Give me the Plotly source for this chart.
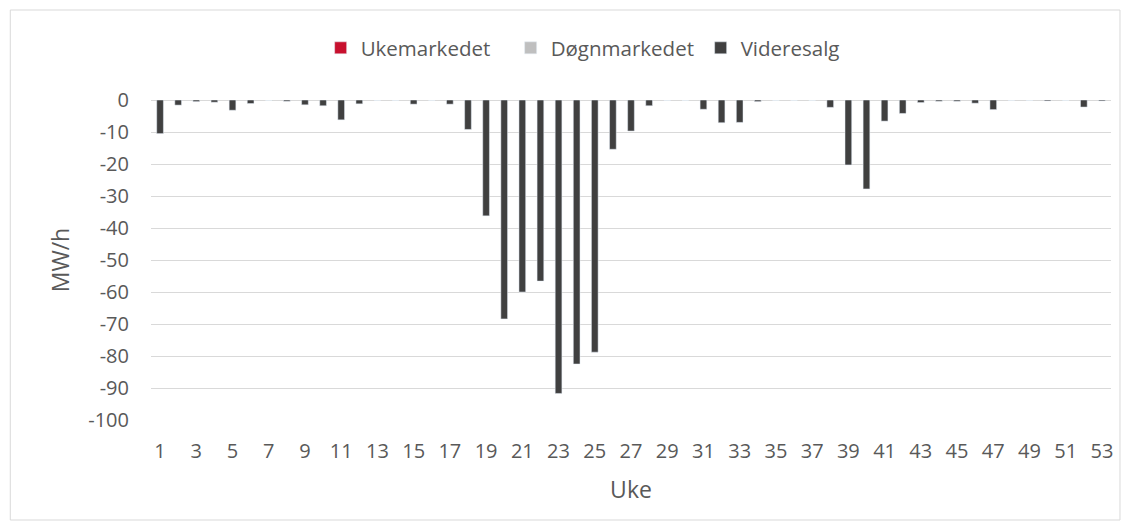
import plotly.graph_objects as go

weeks = list(range(1, 54))
ukemarkedet = [0] * 53
dognmarkedet = [0] * 53
videresalg = [
    -10.5, -1.6, -0.5, -0.7, -3.2, -1.1, 0, -0.4, -1.5, -1.8,
    -6.2, -1.2, 0, 0, -1.3, 0, -1.3, -9.2, -36.2, -68.4,
    -60.0, -56.6, -91.7, -82.5, -78.8, -15.4, -9.7, -1.8, 0, 0,
    -2.9, -7.1, -7.0, -0.5, 0, 0, 0, -2.3, -20.3, -27.8,
    -6.6, -4.2, -0.8, -0.4, -0.4, -1.0, -3.0, 0, 0, -0.3,
    0, -2.2, -0.3,
]
x_ticks = list(range(1, 54, 2))
y_ticks = list(range(-100, 1, 10))

# page has an 8px body margin; figure sized to fit the window
OFF = 8
W, H = 1133 - 2 * OFF, 531 - 2 * OFF
L, T = 151 - OFF, 100 - OFF
R = W - (1113 - OFF)
B = H - (420 - OFF)
pw, ph = W - L - R, H - T - B

def px_x(page_x):
    return (page_x - OFF - L) / pw

def px_y(page_y):
    return (H - B - (page_y - OFF)) / ph

fig = go.Figure()
fig.add_bar(x=weeks, y=ukemarkedet, name="Ukemarkedet", marker_color="#C8102E", width=0.37)
fig.add_bar(x=weeks, y=dognmarkedet, name="Døgnmarkedet", marker_color="#BFBFBF", width=0.37)
fig.add_bar(x=weeks, y=videresalg, name="Videresalg", marker_color="#404040", width=0.37)

font = dict(family="Open Sans, Calibri, sans-serif", color="#595959")

# chart-area border
fig.add_shape(type="rect", xref="paper", yref="paper",
              x0=px_x(10), x1=px_x(1122), y0=px_y(520), y1=px_y(10),
              line=dict(color="#D9D9D9", width=1), layer="below")

fig.update_layout(
    width=W, height=H,
    margin=dict(l=L, r=R, t=T, b=B),
    paper_bgcolor="white", plot_bgcolor="white",
    barmode="relative",
    font=dict(size=20, **font),
    showlegend=True,
    legend=dict(orientation="h", x=px_x(321), xanchor="left", y=px_y(48), yanchor="middle",
                font=dict(size=20.5, **font), itemwidth=30, entrywidth=145,
                traceorder="normal"),
    xaxis=dict(range=[0.5, 53.5], tickmode="array", tickvals=x_ticks,
               ticktext=[str(v) for v in x_ticks], showgrid=False, zeroline=False,
               showline=False, ticks="", tickfont=dict(size=20, **font),
               ticklabelstandoff=17,
               title=dict(text="Uke", font=dict(size=23, **font), standoff=18)),
    yaxis=dict(range=[-100, 0], tickmode="array", tickvals=y_ticks,
               ticktext=[str(v) for v in y_ticks], showgrid=True, gridcolor="#D9D9D9",
               gridwidth=1, zeroline=True, zerolinecolor="#D9D9D9", zerolinewidth=1,
               showline=False, ticks="", tickfont=dict(size=20, **font),
               ticklabelstandoff=21,
               title=dict(text="MW/h", font=dict(size=23, **font), standoff=12)),
)

fig.write_html("out.html")
